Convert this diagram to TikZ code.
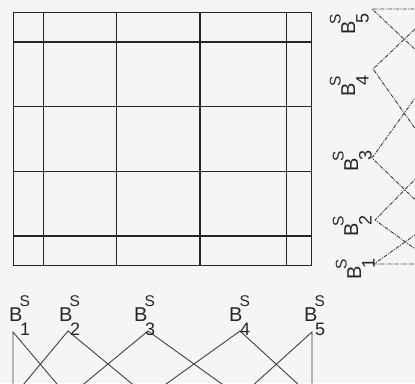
\documentclass[tikz,border=0pt]{standalone}
\usepackage{fontspec}
\setmainfont{Liberation Sans}
\begin{document}
\begin{tikzpicture}[x=1pt,y=-1pt,
  gridline/.style={draw=black!85,line width=1.4pt},
  tent/.style={draw=black!75,line width=0.9pt},
  rtent/.style={draw=black!75,line width=0.9pt,dash pattern=on 4pt off 1.2pt on 1pt off 1.2pt},
  bigB/.style={inner sep=0pt,anchor=base west,font=\fontsize{20}{20}\selectfont,text=black!85},
  supS/.style={inner sep=0pt,anchor=base west,font=\fontsize{15.5}{15.5}\selectfont,text=black!85},
  subD/.style={inner sep=0pt,anchor=base west,font=\fontsize{18}{18}\selectfont,text=black!85}]
\fill[black!4] (0,0) rectangle (415,383);
\useasboundingbox (0,0) rectangle (415,383);
\clip (0,0) rectangle (415,383);
% grid
\draw[gridline] (13.5,12.7) rectangle (311.7,265.7);
\foreach \x in {43.3,116.3,200,286.7} \draw[gridline] (\x,12.7) -- (\x,265.7);
\foreach \y in {42,106.7,171.7,236} \draw[gridline] (13.5,\y) -- (311.7,\y);
% bottom tents
\draw[tent] (13,397) -- (13,332) -- (68,397);
\draw[tent] (13,397) -- (68,331) -- (148,397);
\draw[tent] (68,397) -- (148,331) -- (240,397);
\draw[tent] (148,397) -- (240,331) -- (312,397);
\draw[tent] (240,397) -- (312,332) -- (312,397);
% bottom labels
\foreach \x/\d in {9/1,59/2,134/3,229/4,304/5}{
  \node[bigB] at (\x,321) {B};
  \node[supS] at (\x+10.5,306) {S};
  \node[subD] at (\x+11,335) {\d};
}
% right tents
\draw[rtent] (436,264) -- (374,264) -- (436,220);
\draw[rtent] (436,264) -- (375,220) -- (436,158);
\draw[rtent] (436,220) -- (372,158) -- (436,69);
\draw[rtent] (436,158) -- (373,69) -- (436,9);
\draw[rtent] (436,69) -- (372,9) -- (436,9);
% right labels (rotated)
\foreach \bx/\by/\d in {355/35/5,355/97/4,358/172/3,358/237/2,361/280/1}{
  \node[bigB,rotate=90] at (\bx,\by) {B};
  \node[supS,rotate=90] at (\bx-14.5,\by-10.5) {S};
  \node[subD,rotate=90] at (\bx+13.5,\by-11) {\d};
}
\end{tikzpicture}
\end{document}
